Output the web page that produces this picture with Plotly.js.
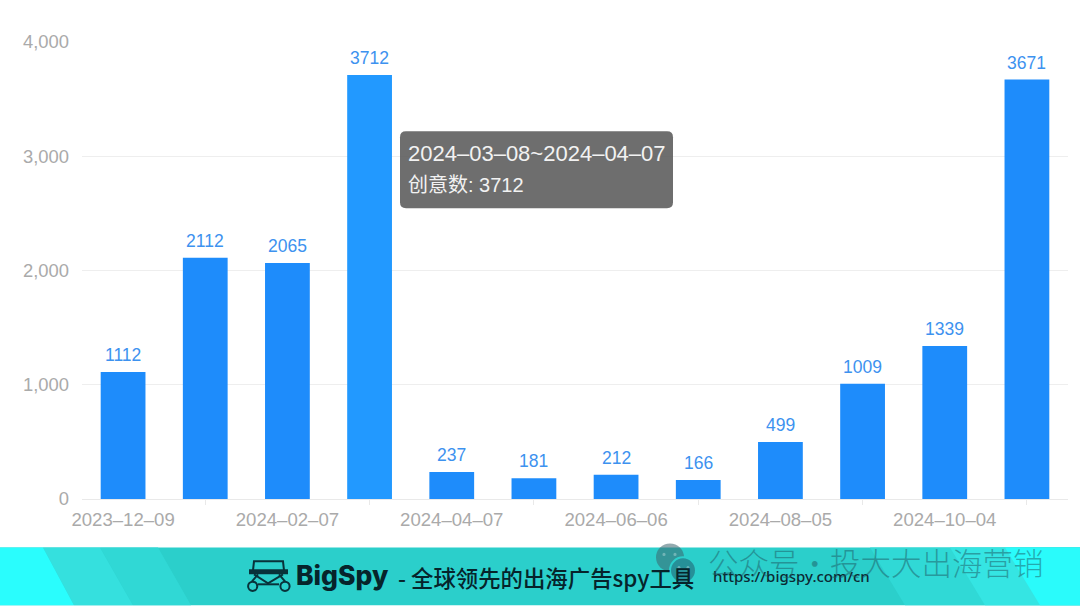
<!DOCTYPE html>
<html>
<head>
<meta charset="utf-8">
<script src="https://cdn.plot.ly/plotly-3.0.1.min.js"></script>
<style>
html, body { margin: 0; padding: 0; background: #fff; }
#plot { width: 1080px; height: 606px; }
</style>
</head>
<body>
<div id="plot"></div>
<script>
var dates = ['2023-12-09', '2024-01-08', '2024-02-07', '2024-03-08', '2024-04-07', '2024-05-07',
    '2024-06-06', '2024-07-06', '2024-08-05', '2024-09-04', '2024-10-04', '2024-11-03'];
var counts = [1112, 2112, 2065, 3712, 237, 181, 212, 166, 499, 1009, 1339, 3671];
var barColors = ['#1e8cfb', '#1e8cfb', '#1e8cfb', '#2299ff', '#1e8cfb', '#1e8cfb',
    '#1e8cfb', '#1e8cfb', '#1e8cfb', '#1e8cfb', '#1e8cfb', '#1e8cfb'];
var labelledDates = ['2023-12-09', '2024-02-07', '2024-04-07', '2024-06-06', '2024-08-05', '2024-10-04'];
var tickLabels = ['2023–12–09', '2024–02–07', '2024–04–07', '2024–06–06', '2024–08–05', '2024–10–04'];
var tickMarkDates = ['2024-01-08', '2024-03-08', '2024-05-07', '2024-07-06', '2024-09-04', '2024-11-03'];
var yTicks = [0, 1000, 2000, 3000, 4000];

var W = 1080, H = 606;
var L = 82, R = 1068, T = 41.5, B = 499.5;
var CN = '"Noto Sans CJK SC", "Noto Sans", sans-serif';
var SANS = '"Liberation Sans", "Noto Sans CJK SC", sans-serif';
var LOGO = '#08323a';

// page pixels -> paper coords, the banner and tooltip sit outside the data
function px(x) { return (x - L) / (R - L); }
function py(y) { return (B - y) / (B - T); }
function pathOf(points) {
    return points.map(function(p, i) {
        return (i ? 'L' : 'M') + px(p[0]) + ',' + py(p[1]);
    }).join(' ');
}
function poly(points, color) {
    return {type: 'path', xref: 'paper', yref: 'paper', path: pathOf(points) + ' Z', fillcolor: color, line: {width: 0}, layer: 'above'};
}
function stroke(points) {
    return {type: 'path', xref: 'paper', yref: 'paper', path: pathOf(points), line: {color: LOGO, width: 2}, layer: 'above'};
}
function circle(cx, cy, r, color) {
    return {type: 'circle', xref: 'paper', yref: 'paper', x0: px(cx - r), x1: px(cx + r), y0: py(cy + r), y1: py(cy - r),
        fillcolor: color, line: {width: 0}, layer: 'above'};
}
function ring(cx, cy, r) {
    return {type: 'circle', xref: 'paper', yref: 'paper', x0: px(cx - r), x1: px(cx + r), y0: py(cy + r), y1: py(cy - r),
        line: {color: LOGO, width: 2}, layer: 'above'};
}
function roundRect(x0, y0, x1, y1, r, color) {
    var d = 'M' + px(x0 + r) + ',' + py(y0) + ' L' + px(x1 - r) + ',' + py(y0) +
        ' Q' + px(x1) + ',' + py(y0) + ' ' + px(x1) + ',' + py(y0 + r) +
        ' L' + px(x1) + ',' + py(y1 - r) +
        ' Q' + px(x1) + ',' + py(y1) + ' ' + px(x1 - r) + ',' + py(y1) +
        ' L' + px(x0 + r) + ',' + py(y1) +
        ' Q' + px(x0) + ',' + py(y1) + ' ' + px(x0) + ',' + py(y1 - r) +
        ' L' + px(x0) + ',' + py(y0 + r) +
        ' Q' + px(x0) + ',' + py(y0) + ' ' + px(x0 + r) + ',' + py(y0) + ' Z';
    return {type: 'path', xref: 'paper', yref: 'paper', path: d, fillcolor: color, line: {width: 0}, layer: 'above'};
}
function note(x, y, text, size, color, weight, family) {
    return {xref: 'paper', yref: 'paper', x: px(x), y: py(y), text: text, showarrow: false,
        xanchor: 'left', yanchor: 'middle', borderpad: 0,
        font: {size: size, color: color, weight: weight || 400, family: family || CN}};
}

var trace = {
    type: 'bar',
    x: dates,
    y: counts,
    width: 0.545,
    marker: {color: barColors, line: {width: 0}},
    hoverinfo: 'skip'
};

var shapes = [
    // banner
    poly([[0, 548], [1080, 548], [1080, 606], [0, 606]], '#2bcfcb'),
    poly([[100, 548], [158, 548], [191, 606], [133, 606]], '#30d8d5'),
    poly([[43, 548], [100, 548], [133, 606], [74, 606]], '#35e0de'),
    poly([[0, 548], [43, 548], [74, 606], [0, 606]], '#2afdfd'),
    poly([[870, 548], [1080, 548], [1080, 606], [905, 606]], '#30d9d6'),
    poly([[950, 548], [1080, 548], [1080, 606], [985, 606]], '#35e5e3'),
    poly([[1005, 548], [1080, 548], [1080, 606], [1040, 606]], '#2afbfb'),
    // logo
    stroke([[253, 571], [254, 562], [283, 562], [284, 571]]),
    poly([[249, 570], [288, 570], [288, 575], [249, 575]], LOGO),
    stroke([[254, 575], [268, 584], [283, 575]]),
    stroke([[258, 575], [252, 582]]),
    stroke([[279, 575], [285, 582]]),
    stroke([[258, 585], [279, 585]]),
    ring(252.7, 587, 4.6),
    ring(285, 587, 4.6),
    // wechat mark
    circle(670, 558, 14, 'rgba(60,100,110,0.55)'),
    circle(683, 571, 14, '#2ccfcc'),
    circle(683, 571, 12, 'rgba(35,105,120,0.62)'),
    circle(664, 555, 1.6, 'rgba(255,255,255,0.3)'),
    circle(675, 555, 1.6, 'rgba(255,255,255,0.3)'),
    circle(679, 568, 1.4, 'rgba(255,255,255,0.3)'),
    circle(688, 568, 1.4, 'rgba(255,255,255,0.3)'),
    // tooltip box
    roundRect(400, 131, 673, 208, 6, 'rgba(85,85,85,0.85)')
];

// value labels sit a bit higher than plotly's own outside text
var valueLabels = counts.map(function(v, i) {
    return {x: dates[i], y: v, xref: 'x', yref: 'y', text: String(v), showarrow: false,
        xanchor: 'center', yanchor: 'bottom', yshift: 6, borderpad: 0,
        font: {size: 17.5, color: '#3d92ef', family: SANS}};
});

var annotations = valueLabels.concat([
    note(407, 153, '2024–03–08~2024–04–07', 22, '#f2f2f2', 400, SANS),
    note(407, 185, '创意数: 3712', 20, '#f2f2f2', 400, SANS),
    note(295, 576, 'BigSpy', 26.5, '#06242b', 800, 'Inter, sans-serif'),
    note(397, 578, '- 全球领先的出海广告spy工具', 22.4, '#06242b', 500),
    note(712, 577, 'https://bigspy.com/cn', 15, '#0b2a33', 500, '"Noto Sans", sans-serif'),
    note(707, 563, '公众号·投大大出海营销', 30.5, 'rgba(30,90,100,0.5)', 300)
]);

var layout = {
    width: W,
    height: H,
    margin: {l: L, r: W - R, t: T, b: H - B, pad: 0},
    paper_bgcolor: '#ffffff',
    plot_bgcolor: '#ffffff',
    showlegend: false,
    font: {family: SANS},
    xaxis: {
        type: 'category',
        categoryorder: 'array',
        categoryarray: dates,
        tickmode: 'array',
        tickvals: labelledDates,
        ticktext: tickLabels,
        ticks: '',
        tickangle: 0,
        showgrid: false,
        showline: true,
        linecolor: '#e9e9e9',
        linewidth: 1,
        zeroline: false,
        ticklabelstandoff: 4,
        tickfont: {size: 18.6, color: '#aaaaaa', family: SANS},
        minor: {tickmode: 'array', tickvals: tickMarkDates, ticks: 'outside', ticklen: 5, tickcolor: '#e9e9e9', tickwidth: 1, showgrid: false}
    },
    yaxis: {
        range: [0, 4000],
        tickmode: 'array',
        tickvals: yTicks,
        tickformat: ',d',
        ticks: '',
        showgrid: true,
        gridcolor: '#eeeeee',
        gridwidth: 1,
        zeroline: false,
        showline: false,
        ticklabelstandoff: 12,
        tickfont: {size: 18.4, color: '#aaaaaa', family: SANS}
    },
    shapes: shapes,
    annotations: annotations
};

Plotly.newPlot('plot', [trace], layout, {displayModeBar: false, responsive: false});
</script>
</body>
</html>
